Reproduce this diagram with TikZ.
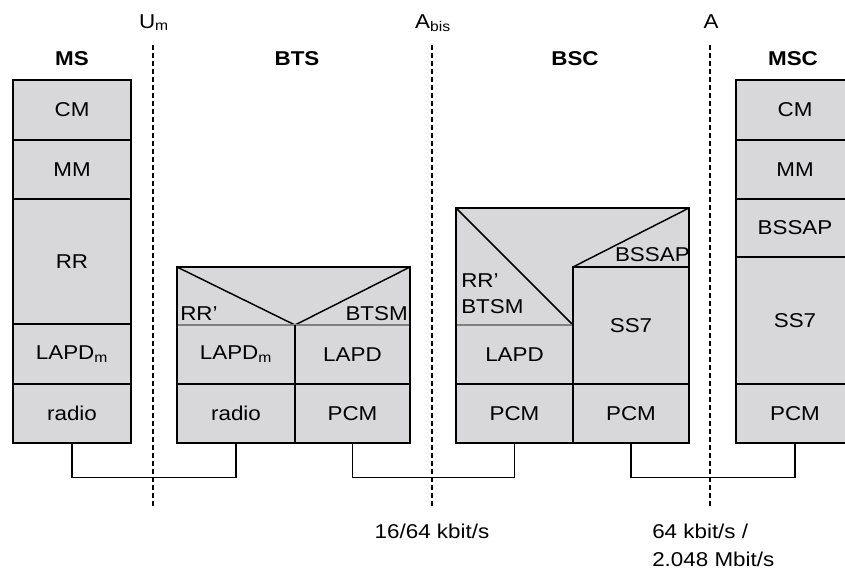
\documentclass[tikz,border=0pt]{standalone}
\usepackage{fontspec}
\setmainfont{Liberation Sans}[FakeStretch=1.12]
\usepackage{xcolor}

\definecolor{boxgray}{RGB}{216,216,218}
\definecolor{sepgray}{RGB}{128,128,128}

\begin{document}
\begin{tikzpicture}[x=0.75pt,y=0.75pt,yscale=-1,xscale=1,
  layer/.style={draw, fill=boxgray, line width=1.1pt, inner sep=0pt, font=\fontsize{15}{17}\selectfont},
  sz/.style 2 args={minimum width=#1*0.75pt, minimum height=#2*0.75pt},
  lbl/.style={inner sep=0pt, font=\fontsize{15}{17}\selectfont},
  head/.style={inner sep=0pt, font=\fontsize{15}{17}\selectfont\bfseries},
  iface/.style={line width=1pt, dash pattern={on 3.75pt off 2.25pt}},
  link/.style={line width=1.1pt},
  sepline/.style={draw=sepgray, line width=2.2pt}]
%set diagram size
\useasboundingbox (0,0) rectangle (845,569);

%Shape: Stack MS
\node[layer, sz={118}{60}] (mscm) at (72,110) {CM};
\node[layer, sz={118}{59}] (msmm) at (72,169.5) {MM};
\node[layer, sz={118}{125}] (msrr) at (72,261.5) {RR};
\node[layer, sz={118}{60}] (mslapd) at (72,354) {LAPD\textsubscript{m}};
\node[layer, sz={118}{59}] (msradio) at (72,413.5) {radio};

%Shape: Stack BTS
\draw [layer] (177,267) rectangle (410,325);
\draw [line width=1.1pt] (177,267) -- (295,325) -- (410,267);
\node[layer, sz={118}{59}] (btslapdm) at (236,354.5) {LAPD\textsubscript{m}};
\node[layer, sz={115}{59}] (btslapd) at (352.5,354.5) {LAPD};
\node[layer, sz={118}{59}] (btsradio) at (236,413.5) {radio};
\node[layer, sz={115}{59}] (btspcm) at (352.5,413.5) {PCM};
\draw [sepline] (177.6,325) -- (409.4,325);
\draw [line width=1.1pt] (295,325) -- (295,384);

%Shape: Stack BSC
\draw [layer] (456,208) -- (689,208) -- (689,267) -- (573,267) -- (573,325) -- (456,325) -- cycle;
\draw [line width=1.1pt] (456,208) -- (573,325);
\draw [line width=1.1pt] (573,267) -- (689,208);
\node[layer, sz={116}{117}] (bscss) at (631,325.5) {SS7};
\node[layer, sz={117}{59}] (bsclapd) at (514.5,354.5) {LAPD};
\node[layer, sz={117}{59}] (bscpcma) at (514.5,413.5) {PCM};
\node[layer, sz={116}{59}] (bscpcmb) at (631,413.5) {PCM};
\draw [sepline] (456.6,325) -- (572.4,325);

%Shape: Stack MSC
\node[layer, sz={118}{60}] (msccm) at (795,110) {CM};
\node[layer, sz={118}{59}] (mscmm) at (795,169.5) {MM};
\node[layer, sz={118}{58}] (mscbssap) at (795,228) {BSSAP};
\node[layer, sz={118}{127}] (mscss) at (795,320.5) {SS7};
\node[layer, sz={118}{59}] (mscpcm) at (795,413.5) {PCM};

%Straight Lines
\draw [link] (msradio.south) -- ++(0,34) -| (btsradio.south);
\draw [link] (btspcm.south) -- ++(0,34) -| (bscpcma.south);
\draw [link] (bscpcmb.south) -- ++(0,34) -| (mscpcm.south);

%Straight Lines
\draw [iface] (153,45) -- (153,507);
\draw [iface] (432,45) -- (432,507);
\draw [iface] (710,45) -- (710,507);

% Text Node
\node[lbl, anchor=base west] (btsrr) at (180,320) {RR'};
% Text Node
\node[lbl, anchor=base east] (btsbtsm) at (408,320) {BTSM};
% Text Node
\node[lbl, anchor=base west] (bscrr) at (461,287) {RR'};
% Text Node
\node[lbl, anchor=base west] (bscbtsm) at (461,313) {BTSM};
% Text Node
\node[lbl, anchor=base east] (bscbssap) at (690,261) {BSSAP};

% Text Node
\node[head, anchor=base] (ms) at (72,65) {MS};
% Text Node
\node[head, anchor=base] (bts) at (297,65) {BTS};
% Text Node
\node[head, anchor=base] (bsc) at (575,65) {BSC};
% Text Node
\node[head, anchor=base] (msc) at (793,65) {MSC};

% Text Node
\node[lbl, anchor=base] (um) at (154,28) {U\textsubscript{m}};
% Text Node
\node[lbl, anchor=base] (abis) at (433,28) {A\textsubscript{bis}};
% Text Node
\node[lbl, anchor=base] (ai) at (711,28) {A};

% Text Node
\node[lbl, anchor=base] (rateabis) at (432,538) {16/64 kbit/s};
% Text Node
\node[lbl, anchor=base west] (ratea) at (652,538) {64 kbit/s /};
% Text Node
\node[lbl, anchor=base west] (rateb) at (652,566) {2.048 Mbit/s};

\end{tikzpicture}
\end{document}
